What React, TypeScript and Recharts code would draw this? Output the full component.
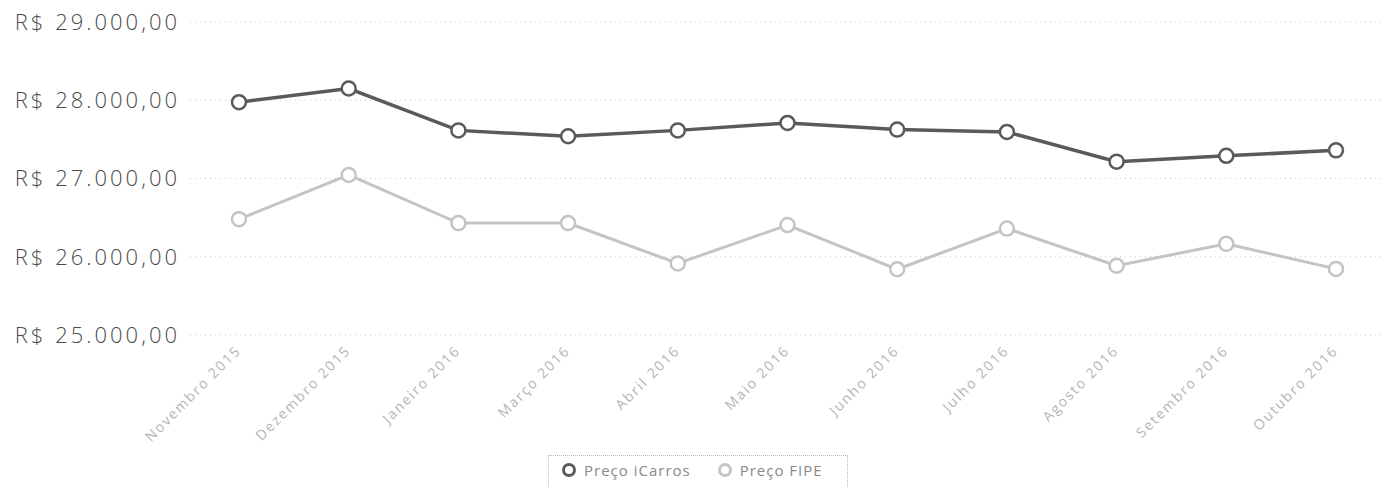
import { LineChart, Line, XAxis, YAxis, CartesianGrid, Legend } from "recharts";

const MONTHS = [
  "Novembro 2015",
  "Dezembro 2015",
  "Janeiro 2016",
  "Março 2016",
  "Abril 2016",
  "Maio 2016",
  "Junho 2016",
  "Julho 2016",
  "Agosto 2016",
  "Setembro 2016",
  "Outubro 2016",
];

const PRECO_ICARROS = [27975, 28150, 27615, 27540, 27615, 27710, 27625, 27595, 27215, 27290, 27360];
const PRECO_FIPE = [26480, 27045, 26430, 26430, 25915, 26405, 25840, 26360, 25885, 26165, 25845];

const Y_TICKS = [25000, 26000, 27000, 28000, 29000];

const DARK = "#5a5a5a";
const LIGHT = "#c4c4c4";

const data = MONTHS.map((m, i) => ({
  month: m,
  icarros: PRECO_ICARROS[i],
  fipe: PRECO_FIPE[i],
}));

const formatBRL = (v: number) =>
  "R$ " + v.toLocaleString("pt-BR", { minimumFractionDigits: 2, maximumFractionDigits: 2 });

function MonthTick(props: any) {
  const { x, y, payload } = props;
  return (
    <g transform={`translate(${x},${y})`}>
      <text
        x={0}
        y={0}
        dy={8}
        dx={-4}
        textAnchor="end"
        transform="rotate(-45)"
        fontSize={14}
        letterSpacing={1.8}
        fill="#b5b5b5"
        fontFamily="'Open Sans', sans-serif"
      >
        {payload.value}
      </text>
    </g>
  );
}

function LegendBox() {
  const items = [
    { label: "Preço iCarros", color: DARK },
    { label: "Preço FIPE", color: LIGHT },
  ];
  return (
    <div
      style={{
        display: "flex",
        alignItems: "center",
        gap: 26,
        width: 300,
        height: 40,
        boxSizing: "border-box",
        padding: "0px 12px 10px 12px",
        border: "1px dotted #bbb",
        fontFamily: "'Open Sans', sans-serif",
        fontSize: 15,
        letterSpacing: 1,
        color: "#8a8a8a",
      }}
    >
      {items.map((it) => (
        <span key={it.label} style={{ display: "flex", alignItems: "center", gap: 7 }}>
          <svg width={16} height={16}>
            <circle cx={8} cy={8} r={5.5} fill="#fff" stroke={it.color} strokeWidth={3} />
          </svg>
          {it.label}
        </span>
      ))}
    </div>
  );
}

export default function App() {
  return (
    <div style={{ position: "absolute", left: 0, top: 0, background: "#fff" }}>
      <LineChart
        width={1383}
        height={487}
        data={data}
        margin={{ top: 22, right: 0, bottom: 32, left: 0 }}
      >
        <CartesianGrid vertical={false} stroke="#c8c8c8" strokeDasharray="1 4" />
        <XAxis
          dataKey="month"
          axisLine={false}
          tickLine={false}
          interval={0}
          height={120}
          padding={{ left: 49, right: 47 }}
          tick={<MonthTick />}
        />
        <YAxis
          width={190}
          domain={[25000, 29000]}
          ticks={Y_TICKS}
          axisLine={false}
          tickLine={false}
          tickSize={0}
          tickMargin={10}
          tickFormatter={formatBRL}
          tick={{
            fontSize: 22,
            fill: "#4a4a4a",
            fontFamily: "'Open Sans', sans-serif",
            fontWeight: 300,
            letterSpacing: 3,
          }}
        />
        <Legend
          layout="horizontal"
          verticalAlign="middle"
          align="center"
          content={() => <LegendBox />}
          wrapperStyle={{ position: "absolute", left: 548, top: 455, width: 300 }}
        />
        <Line
          type="linear"
          dataKey="fipe"
          name="Preço FIPE"
          stroke={LIGHT}
          strokeWidth={3}
          dot={{ r: 7, fill: "#fff", stroke: LIGHT, strokeWidth: 2.5 }}
          isAnimationActive={false}
        />
        <Line
          type="linear"
          dataKey="icarros"
          name="Preço iCarros"
          stroke={DARK}
          strokeWidth={3.5}
          dot={{ r: 7, fill: "#fff", stroke: DARK, strokeWidth: 2.5 }}
          isAnimationActive={false}
        />
      </LineChart>
    </div>
  );
}
